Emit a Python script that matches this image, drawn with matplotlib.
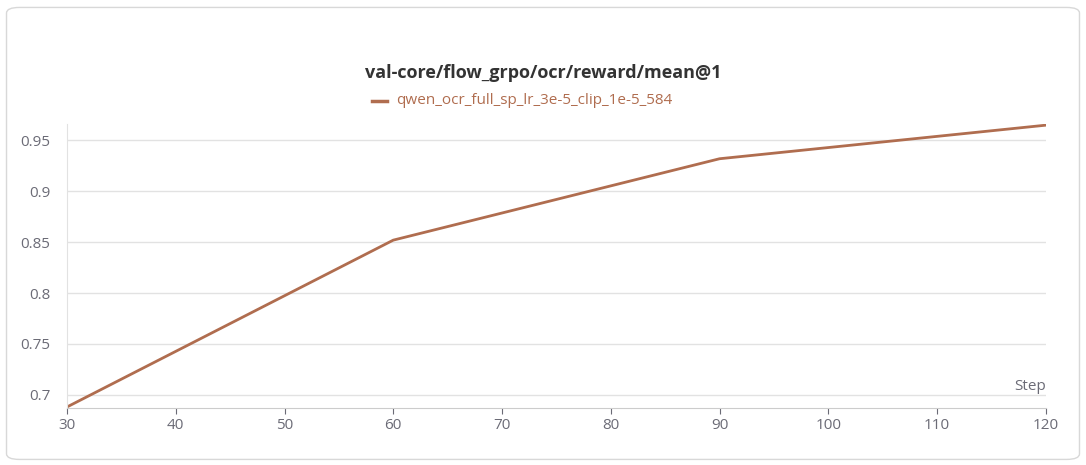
import matplotlib
matplotlib.use("Agg")
import matplotlib.pyplot as plt
from matplotlib.patches import FancyBboxPatch

steps = [30, 60, 90, 120]
reward = [0.688, 0.852, 0.932, 0.965]
series_name = "qwen_ocr_full_sp_lr_3e-5_clip_1e-5_584"
title = "val-core/flow_grpo/ocr/reward/mean@1"
xticks = [30, 40, 50, 60, 70, 80, 90, 100, 110, 120]
yticks = [0.7, 0.75, 0.8, 0.85, 0.9, 0.95]
ytick_labels = ["0.7", "0.75", "0.8", "0.85", "0.9", "0.95"]

plt.rcParams['font.family'] = ['Open Sans', 'DejaVu Sans']
color = "#b06d4f"
fig = plt.figure(figsize=(10.86, 4.65), dpi=100)
fig.patches.append(FancyBboxPatch((0.006, 0.012), 0.988, 0.972, boxstyle="round,pad=0,rounding_size=0.012",
                                  transform=fig.transFigure, fc="white", ec="#d8d8d8", lw=1, zorder=-10))
ax = fig.add_axes([0.0617, 0.1226, 0.9013, 0.6104])
ax.set_zorder(5)
ax.patch.set_alpha(0)
ax.plot(steps, reward, color=color, lw=2)
ax.set_xlim(30, 120)
ax.set_ylim(0.687, 0.966)
ax.set_xticks(xticks)
ax.set_yticks(yticks)
ax.set_yticklabels(ytick_labels)
ax.grid(axis='y', color="#e2e2e2", lw=1)
ax.set_axisbelow(True)
for s in ["top", "right"]:
    ax.spines[s].set_visible(False)
ax.spines["left"].set_color("#e2e2e2")
ax.spines["bottom"].set_color("#cccccc")
ax.tick_params(colors="#6b6b76", labelsize=11, length=4)
ax.tick_params(axis='y', length=0, pad=12)
ax.text(1.0, 0.05, "Step", transform=ax.transAxes, ha="right", va="bottom", color="#6b6b76", fontsize=11)
fig.text(0.5, 0.843, title, ha="center", va="center", fontsize=13, fontweight="bold", color="#333333")
fig.lines.append(plt.Line2D([0.343, 0.356], [0.783, 0.783], transform=fig.transFigure, color=color, lw=2.5))
fig.text(0.365, 0.783, series_name, ha="left", va="center", fontsize=11, color=color)
fig.savefig("out.png", dpi=100)
